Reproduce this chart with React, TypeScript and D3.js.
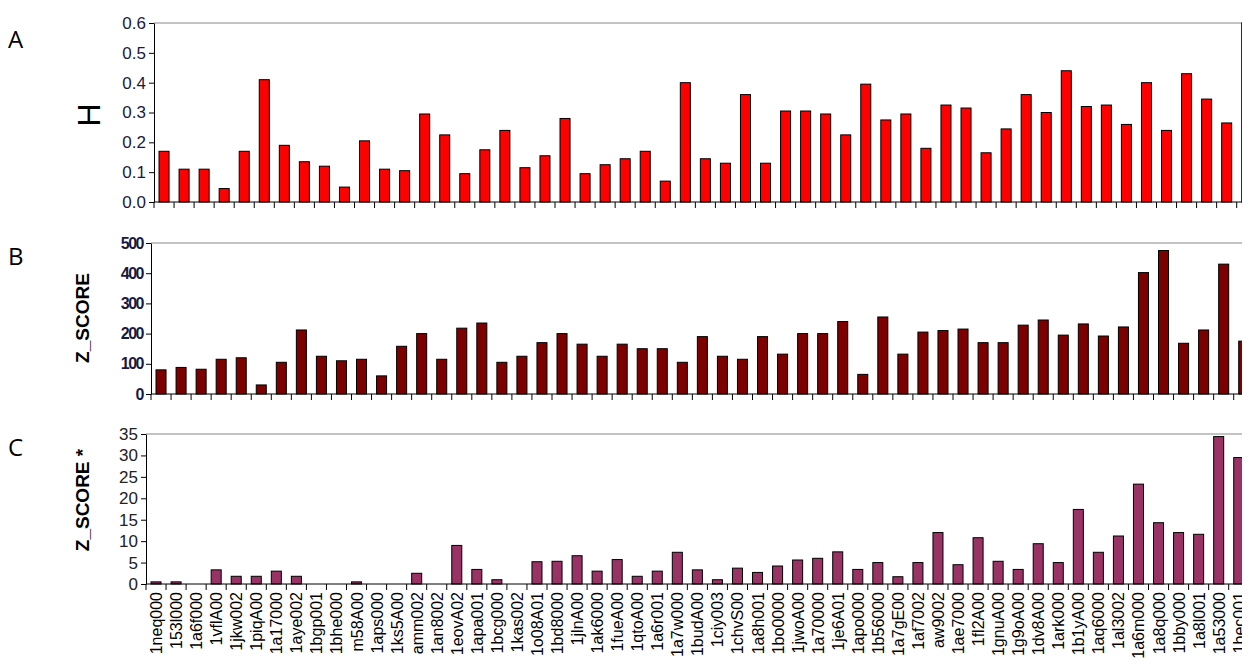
import React, { useRef, useEffect } from 'react';
import * as d3 from 'd3';

const categories = [
  '1neq000', '153l000', '1a6f000', '1vflA00', '1jkw002', '1piqA00', '1a17000', '1aye002', '1bgp001', '1bhe000',
  'm58A00', '1aps000', '1ks5A00', 'amm002', '1an8002', '1eovA02', '1apa001', '1bcg000', '1kas002', '1o08A01',
  '1bd8000', '1jlnA00', '1ak6000', '1fueA00', '1qtoA00', '1a6r001', '1a7w000', '1budA00', '1ciy003', '1chvS00',
  '1a8h001', '1bo0000', '1jwoA00', '1a70000', '1je6A01', '1apo000', '1b56000', '1a7gE00', '1af7002', 'aw9002',
  '1ae7000', '1fl2A00', '1gnuA00', '1g9oA00', '1dv8A00', '1ark000', '1b1yA00', '1aq6000', '1al3002', '1a6m000',
  '1a8q000', '1bby000', '1a8l001', '1a53000', '1bec001',
];

const hValues = [
  0.17, 0.11, 0.11, 0.045, 0.17, 0.41, 0.19, 0.135, 0.12, 0.05,
  0.205, 0.11, 0.105, 0.295, 0.225, 0.095, 0.175, 0.24, 0.115, 0.155,
  0.28, 0.095, 0.125, 0.145, 0.17, 0.07, 0.4, 0.145, 0.13, 0.36,
  0.13, 0.305, 0.305, 0.295, 0.225, 0.395, 0.275, 0.295, 0.18, 0.325,
  0.315, 0.165, 0.245, 0.36, 0.3, 0.44, 0.32, 0.325, 0.26, 0.4,
  0.24, 0.43, 0.345, 0.265, 0.6,
];

const zValues = [
  80, 88, 82, 115, 120, 30, 105, 212, 125, 110,
  115, 60, 158, 200, 115, 218, 235, 105, 125, 170,
  200, 165, 125, 165, 150, 150, 105, 190, 125, 115,
  190, 132, 200, 200, 240, 65, 255, 132, 205, 210,
  215, 170, 170, 228, 245, 195, 232, 192, 222, 402,
  475, 168, 212, 430, 175,
];

const zStarValues = [
  0.5, 0.5, 0, 3.3, 1.8, 1.8, 3, 1.8, 0, 0,
  0.5, 0, 0, 2.5, 0, 9, 3.4, 1, 0, 5.2,
  5.3, 6.6, 3, 5.7, 1.8, 3, 7.4, 3.3, 1, 3.7,
  2.7, 4.2, 5.6, 6, 7.5, 3.4, 5, 1.7, 5, 12,
  4.5, 10.8, 5.3, 3.4, 9.4, 5, 17.4, 7.4, 11.2, 23.3,
  14.3, 12, 11.6, 34.4, 29.5,
];

const hTicks = [0, 0.1, 0.2, 0.3, 0.4, 0.5, 0.6];
const zTicks = [0, 100, 200, 300, 400, 500];
const zStarTicks = [0, 5, 10, 15, 20, 25, 30, 35];

const FONT = '"Liberation Sans", Arial, sans-serif';

export default function App() {
  const svgRef = useRef<SVGSVGElement>(null);

  useEffect(() => {
    if (!svgRef.current) return;
    const svg = d3.select(svgRef.current);
    svg.selectAll('*').remove();

    const panels = [
      { letter: 'A', values: hValues, ticks: hTicks, max: 0.6, fmt: d3.format('.1f'), color: '#ff0000',
        left: 154, top: 23, bottom: 202, letterY: 48, tickColor: '#1a1a40', tickSize: 17, tickWeight: 'normal', spacing: 0 },
      { letter: 'B', values: zValues, ticks: zTicks, max: 500, fmt: d3.format('d'), color: '#7d0000',
        left: 151, top: 243, bottom: 394, letterY: 265, tickColor: '#1a1a40', tickSize: 16, tickWeight: 'bold', spacing: -1.5 },
      { letter: 'C', values: zStarValues, ticks: zStarTicks, max: 35, fmt: d3.format('d'), color: '#993366',
        left: 146, top: 434, bottom: 584, letterY: 456, tickColor: '#222', tickSize: 17, tickWeight: 'normal', spacing: 0 },
    ];

    panels.forEach((p, pi) => {
      const x = d3.scaleBand<string>().domain(categories).range([p.left, p.left + 55 * 20.05]);
      const y = d3.scaleLinear().domain([0, p.max]).range([p.bottom, p.top]);
      const g = svg.append('g');

      g.append('text').attr('x', 8).attr('y', p.letterY).attr('font-family', '"Open Sans", sans-serif')
        .attr('font-size', 24).text(p.letter);

      g.append('line').attr('x1', p.left).attr('x2', 1250).attr('y1', p.top).attr('y2', p.top)
        .attr('stroke', '#888').attr('stroke-width', 1);

      const bw = x.bandwidth() * 0.5;
      g.selectAll('rect').data(p.values).enter().append('rect')
        .attr('x', (_, i) => (x(categories[i]) as number) + (x.bandwidth() - bw) / 2)
        .attr('y', (d) => y(d))
        .attr('width', bw)
        .attr('height', (d) => p.bottom - y(d))
        .attr('fill', p.color)
        .attr('stroke', '#000')
        .attr('stroke-width', 1);

      const yAxis = g.append('g').attr('transform', `translate(${p.left},0)`)
        .call(d3.axisLeft(y).tickValues(p.ticks).tickFormat((d) => p.fmt(d as number)).tickSize(5).tickSizeOuter(0));
      yAxis.select('.domain').attr('stroke', '#000');
      yAxis.selectAll('text').attr('font-family', FONT).attr('letter-spacing', p.spacing)
        .attr('font-size', p.tickSize).attr('font-weight', p.tickWeight).attr('fill', p.tickColor);

      const xg = g.append('g');
      xg.append('line').attr('x1', p.left).attr('x2', 1250).attr('y1', p.bottom).attr('y2', p.bottom).attr('stroke', '#000');
      xg.selectAll('line.tk').data(categories).enter().append('line').attr('class', 'tk')
        .attr('x1', (c) => x(c) as number).attr('x2', (c) => x(c) as number)
        .attr('y1', p.bottom).attr('y2', p.bottom + 6).attr('stroke', '#000');

      if (pi === 2) {
        xg.selectAll('text').data(categories).enter().append('text')
          .attr('transform', (c) => `translate(${(x(c) as number) + x.bandwidth() / 2 + 6},${p.bottom + 8}) rotate(-90)`)
          .attr('text-anchor', 'end')
          .attr('font-family', FONT)
          .attr('font-size', 16)
          .text((c) => c);
      }
    });

    svg.append('text').attr('transform', 'translate(100,115) rotate(-90)').attr('text-anchor', 'middle')
      .attr('font-family', FONT).attr('font-size', 32).text('H');
    svg.append('text').attr('transform', 'translate(89,318) rotate(-90)').attr('text-anchor', 'middle')
      .attr('font-family', FONT).attr('font-size', 19).attr('font-weight', 'bold').text('Z_SCORE');
    svg.append('text').attr('transform', 'translate(89,500) rotate(-90)').attr('text-anchor', 'middle')
      .attr('font-family', FONT).attr('font-size', 19).attr('font-weight', 'bold').text('Z_SCORE *');
  }, []);

  return (
    <div style={{ margin: -8, overflow: 'hidden', width: 1250, height: 671 }}>
      <svg ref={svgRef} width={1250} height={671} style={{ display: 'block', background: '#fff' }} />
    </div>
  );
}
